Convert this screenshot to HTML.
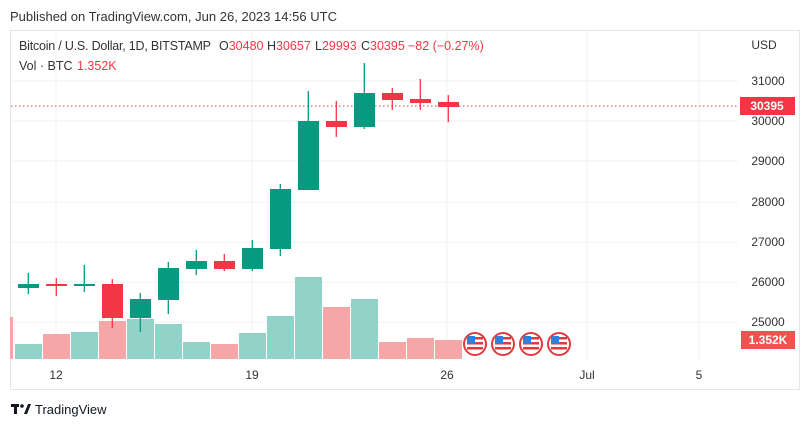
<!DOCTYPE html>
<html><head><meta charset="utf-8"><style>
body{margin:0;background:#fff;width:811px;height:429px;overflow:hidden;font-family:"Liberation Sans",sans-serif}
</style></head><body>
<svg width="811" height="429" xmlns="http://www.w3.org/2000/svg" font-family="Liberation Sans, sans-serif">
<text x="10" y="21" font-size="13" fill="#333" textLength="327">Published on TradingView.com, Jun 26, 2023 14:56 UTC</text>
<rect x="10.5" y="30.5" width="789" height="359" fill="none" stroke="#e6e6e6"/>
<g stroke="#f0f0f0" stroke-width="1">
<line x1="11" x2="738" y1="81" y2="81"/><line x1="11" x2="738" y1="121" y2="121"/><line x1="11" x2="738" y1="161" y2="161"/><line x1="11" x2="738" y1="202" y2="202"/><line x1="11" x2="738" y1="242" y2="242"/><line x1="11" x2="738" y1="282" y2="282"/><line x1="11" x2="738" y1="322" y2="322"/>
<line x1="56" x2="56" y1="31" y2="360"/><line x1="252" x2="252" y1="31" y2="360"/><line x1="447" x2="447" y1="31" y2="360"/><line x1="587" x2="587" y1="31" y2="360"/><line x1="699" x2="699" y1="31" y2="360"/>
</g>
<line x1="11" x2="738" y1="106" y2="106" stroke="#f23645" stroke-dasharray="1.5,2.5"/>
<g>
<rect x="10" y="317" width="3" height="42" fill="#f5a6a6"/>
<rect x="15" y="344" width="27" height="15" fill="#92d2c8"/>
<rect x="43" y="334" width="27" height="25" fill="#f5a6a6"/>
<rect x="71" y="332" width="27" height="27" fill="#92d2c8"/>
<rect x="99" y="321" width="27" height="38" fill="#f5a6a6"/>
<rect x="127" y="319" width="27" height="40" fill="#92d2c8"/>
<rect x="155" y="324" width="27" height="35" fill="#92d2c8"/>
<rect x="183" y="342" width="27" height="17" fill="#92d2c8"/>
<rect x="211" y="344" width="27" height="15" fill="#f5a6a6"/>
<rect x="239" y="333" width="27" height="26" fill="#92d2c8"/>
<rect x="267" y="316" width="27" height="43" fill="#92d2c8"/>
<rect x="295" y="277" width="27" height="82" fill="#92d2c8"/>
<rect x="323" y="307" width="27" height="52" fill="#f5a6a6"/>
<rect x="351" y="299" width="27" height="60" fill="#92d2c8"/>
<rect x="379" y="342" width="27" height="17" fill="#f5a6a6"/>
<rect x="407" y="338" width="27" height="21" fill="#f5a6a6"/>
<rect x="435" y="340" width="27" height="19" fill="#f5a6a6"/>
</g>
<g stroke-width="1.3">
<line x1="28.3" x2="28.3" y1="273" y2="294" stroke="#089981"/><rect x="18" y="284" width="21" height="4" fill="#089981"/>
<line x1="56.3" x2="56.3" y1="278" y2="296" stroke="#f23645"/><rect x="46" y="284" width="21" height="2" fill="#f23645"/>
<line x1="84.3" x2="84.3" y1="265" y2="292" stroke="#089981"/><rect x="74" y="284" width="21" height="2" fill="#089981"/>
<line x1="112.3" x2="112.3" y1="279" y2="328" stroke="#f23645"/><rect x="102" y="284" width="21" height="34" fill="#f23645"/>
<line x1="140.3" x2="140.3" y1="293" y2="332" stroke="#089981"/><rect x="130" y="299" width="21" height="19" fill="#089981"/>
<line x1="168.3" x2="168.3" y1="262" y2="314" stroke="#089981"/><rect x="158" y="268" width="21" height="32" fill="#089981"/>
<line x1="196.3" x2="196.3" y1="250" y2="275" stroke="#089981"/><rect x="186" y="261" width="21" height="8" fill="#089981"/>
<line x1="224.3" x2="224.3" y1="254" y2="271" stroke="#f23645"/><rect x="214" y="261" width="21" height="8" fill="#f23645"/>
<line x1="252.3" x2="252.3" y1="240" y2="271" stroke="#089981"/><rect x="242" y="248" width="21" height="21" fill="#089981"/>
<line x1="280.3" x2="280.3" y1="184" y2="256" stroke="#089981"/><rect x="270" y="189" width="21" height="60" fill="#089981"/>
<line x1="308.3" x2="308.3" y1="91" y2="121" stroke="#089981"/><rect x="298" y="121" width="21" height="69" fill="#089981"/>
<line x1="336.3" x2="336.3" y1="101" y2="137" stroke="#f23645"/><rect x="326" y="121" width="21" height="6" fill="#f23645"/>
<line x1="364.3" x2="364.3" y1="63" y2="129" stroke="#089981"/><rect x="354" y="93" width="21" height="34" fill="#089981"/>
<line x1="392.3" x2="392.3" y1="88" y2="110" stroke="#f23645"/><rect x="382" y="93" width="21" height="7" fill="#f23645"/>
<line x1="420.3" x2="420.3" y1="79" y2="110" stroke="#f23645"/><rect x="410" y="99" width="21" height="4" fill="#f23645"/>
<line x1="448.3" x2="448.3" y1="95" y2="122" stroke="#f23645"/><rect x="438" y="102" width="21" height="5" fill="#f23645"/>
</g>
<g>
<g transform="translate(475,344)"><circle r="11" fill="#fff" stroke="#e03a3e" stroke-width="2"/><rect x="-8" y="-7" width="16" height="2.5" fill="#e03a3e"/><rect x="-8" y="-2" width="16" height="2.5" fill="#e03a3e"/><rect x="-8" y="3" width="16" height="2.5" fill="#e03a3e"/><rect x="-8" y="-8" width="8" height="8" fill="#2f7fe0"/></g>
<g transform="translate(503,344)"><circle r="11" fill="#fff" stroke="#e03a3e" stroke-width="2"/><rect x="-8" y="-7" width="16" height="2.5" fill="#e03a3e"/><rect x="-8" y="-2" width="16" height="2.5" fill="#e03a3e"/><rect x="-8" y="3" width="16" height="2.5" fill="#e03a3e"/><rect x="-8" y="-8" width="8" height="8" fill="#2f7fe0"/></g>
<g transform="translate(531,344)"><circle r="11" fill="#fff" stroke="#e03a3e" stroke-width="2"/><rect x="-8" y="-7" width="16" height="2.5" fill="#e03a3e"/><rect x="-8" y="-2" width="16" height="2.5" fill="#e03a3e"/><rect x="-8" y="3" width="16" height="2.5" fill="#e03a3e"/><rect x="-8" y="-8" width="8" height="8" fill="#2f7fe0"/></g>
<g transform="translate(559,344)"><circle r="11" fill="#fff" stroke="#e03a3e" stroke-width="2"/><rect x="-8" y="-7" width="16" height="2.5" fill="#e03a3e"/><rect x="-8" y="-2" width="16" height="2.5" fill="#e03a3e"/><rect x="-8" y="3" width="16" height="2.5" fill="#e03a3e"/><rect x="-8" y="-8" width="8" height="8" fill="#2f7fe0"/></g>
</g>
<g font-size="12.5" fill="#333">
<text x="19" y="50" textLength="192">Bitcoin / U.S. Dollar, 1D, BITSTAMP</text>
<text x="219" y="50">O<tspan fill="#f23645">30480</tspan></text>
<text x="267" y="50">H<tspan fill="#f23645">30657</tspan></text>
<text x="315" y="50">L<tspan fill="#f23645">29993</tspan></text>
<text x="361" y="50">C<tspan fill="#f23645">30395</tspan></text>
<text x="408" y="50" fill="#f23645">−82 (−0.27%)</text>
<text x="19" y="70">Vol · BTC</text>
<text x="77" y="70" fill="#f23645">1.352K</text>
</g>
<g font-size="12" fill="#333" text-anchor="middle">
<text x="764" y="49">USD</text>
<text x="768" y="85">31000</text><text x="768" y="125">30000</text><text x="768" y="165">29000</text><text x="768" y="206">28000</text><text x="768" y="246">27000</text><text x="768" y="286">26000</text><text x="768" y="326">25000</text>
</g>
<rect x="740" y="97" width="55" height="18" fill="#f23645"/>
<text x="767" y="110" font-size="12" font-weight="bold" fill="#fff" text-anchor="middle">30395</text>
<rect x="741" y="331" width="54" height="18" fill="#ef5350"/>
<text x="768" y="344" font-size="12" font-weight="bold" fill="#fff" text-anchor="middle">1.352K</text>
<g font-size="12" fill="#333" text-anchor="middle">
<text x="56" y="379">12</text><text x="252" y="379">19</text><text x="447" y="379">26</text><text x="587" y="379">Jul</text><text x="699" y="379">5</text>
</g>
<g fill="#131722">
<rect x="11" y="404" width="8" height="3"/><rect x="14" y="404" width="3" height="10"/>
<circle cx="22" cy="406" r="1.8"/><path d="M24 414 L28 404 L31 404 L27 414Z"/>
</g>
<text x="35" y="414" font-size="13" fill="#131722">TradingView</text>
</svg>
</body></html>
